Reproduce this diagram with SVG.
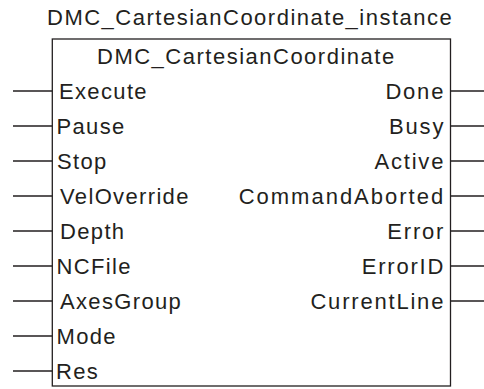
<svg xmlns="http://www.w3.org/2000/svg" width="484" height="389" viewBox="0 0 484 389">
<style>
text{font-family:"Liberation Sans",Arial,sans-serif;font-size:22px;fill:#231f20;letter-spacing:1.35px}
.t{letter-spacing:1.5px}
.r{text-anchor:end;letter-spacing:1.8px}
.ln{stroke:#231f20;stroke-width:1.3;fill:none}
</style>
<rect width="484" height="389" fill="#fff"/>
<text class="t" x="47" y="24.5">DMC_CartesianCoordinate_instance</text>
<g id="block">
<rect class="ln" x="52.3" y="39" width="398.2" height="347"/>
<text class="t" x="97" y="63.5">DMC_CartesianCoordinate</text>
</g>
<g id="connectors">
<path class="ln" d="M13,91H52.3M13,126H52.3M13,161H52.3M13,196H52.3M13,231H52.3M13,266H52.3M13,301H52.3M13,336H52.3M13,371H52.3"/>
<path class="ln" d="M450.5,91H484M450.5,126H484M450.5,161H484M450.5,196H484M450.5,231H484M450.5,266H484M450.5,301H484"/>
</g>
<g id="inputs">
<text x="59" y="99">Execute</text>
<text x="56.5" y="134">Pause</text>
<text x="57" y="169">Stop</text>
<text x="60" y="204">VelOverride</text>
<text x="60" y="239">Depth</text>
<text x="56.5" y="274">NCFile</text>
<text x="60" y="309">AxesGroup</text>
<text x="56.5" y="344">Mode</text>
<text x="56" y="379">Res</text>
</g>
<g id="outputs">
<text class="r" x="445.2" y="99">Done</text>
<text class="r" x="445.2" y="134">Busy</text>
<text class="r" x="445.2" y="169">Active</text>
<text class="r" x="445.2" y="204" style="letter-spacing:2px">CommandAborted</text>
<text class="r" x="445.2" y="239">Error</text>
<text class="r" x="445.2" y="274">ErrorID</text>
<text class="r" x="445.2" y="309">CurrentLine</text>
</g>
</svg>
